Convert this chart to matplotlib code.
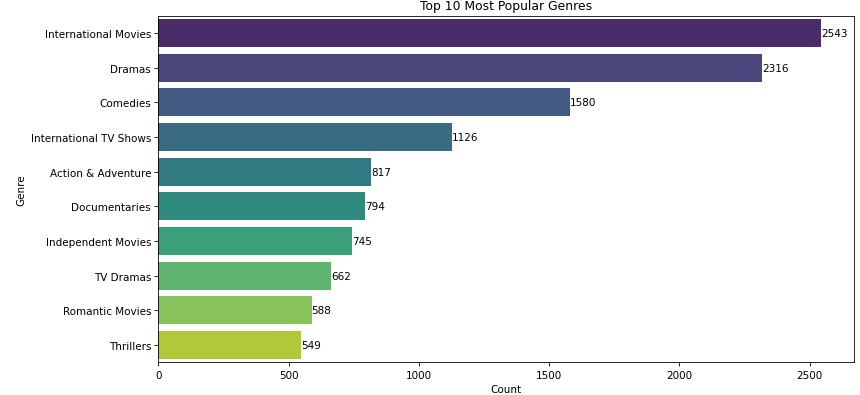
import matplotlib
matplotlib.use("Agg")
import matplotlib.pyplot as plt
import seaborn as sns
import pandas as pd

genres = ["International Movies", "Dramas", "Comedies", "International TV Shows",
          "Action & Adventure", "Documentaries", "Independent Movies", "TV Dramas",
          "Romantic Movies", "Thrillers"]
counts = [2543, 2316, 1580, 1126, 817, 794, 745, 662, 588, 549]

df = pd.DataFrame({"Genre": genres, "Count": counts})

DPI = 74.6
fig = plt.figure(figsize=(860 / DPI, 396 / DPI), dpi=DPI)
ax = fig.add_axes([0.1841, 0.0826, 0.8090, 0.8753])
sns.barplot(data=df, x="Count", y="Genre", hue="Genre", palette="viridis",
            legend=False, ax=ax)
for c in ax.containers:
    ax.bar_label(c)
ax.set_title("Top 10 Most Popular Genres")
fig.savefig("out.png", dpi=DPI)
